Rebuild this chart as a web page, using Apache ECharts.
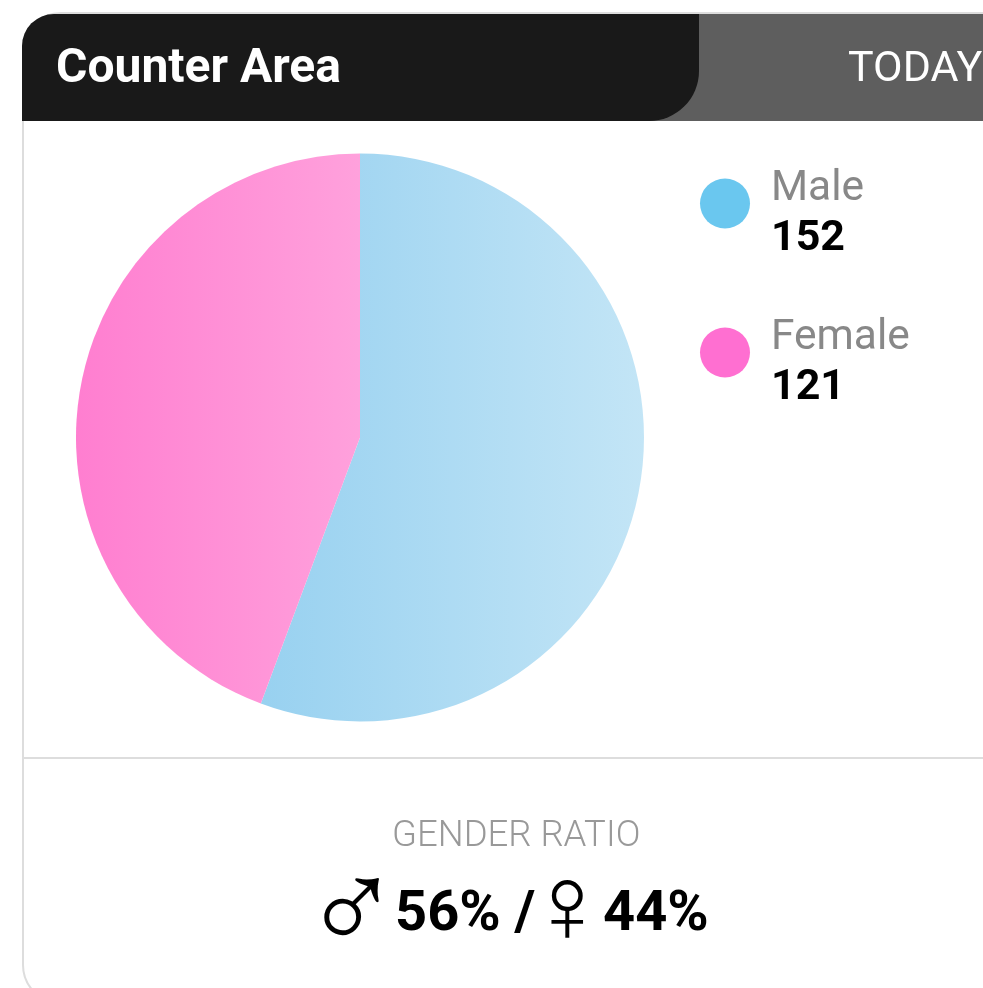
<!DOCTYPE html>
<html>
<head>
<meta charset="utf-8">
<title>Counter Area</title>
<style>
	html, body { margin: 0; padding: 0; background: #fff; overflow: hidden; }
	#main { width: 983px; height: 988px; }
</style>
<script src="https://cdn.jsdelivr.net/npm/echarts@6/dist/echarts.min.js"></script>
</head>
<body>
<div id="main"></div>
<script>
var genderNames = ['Male', 'Female'];
var genderCounts = [152, 121];
var genderPercents = ['56%', '44%'];
var legendColors = ['#6AC7EF', '#FF6FD1'];
var sliceFrom = ['#98D1F0', '#FF7ED0'];
var sliceTo = ['#C3E5F6', '#FFA1DC'];
var titleText = 'Counter Area';
var tabText = 'TODAY';
var ratioText = 'GENDER RATIO';

var myChart = echarts.init(document.getElementById('main'), null, { renderer: 'canvas' });

var pieData = [];
var legendData = [];
for (var i in genderNames) {
	pieData.push({
		name: genderNames[i],
		value: genderCounts[i],
		itemStyle: {
			color: new echarts.graphic.LinearGradient(0, 0, 1, 0, [
				{ offset: 0, color: sliceFrom[i] },
				{ offset: 1, color: sliceTo[i] }
			])
		}
	});
	legendData.push({
		name: genderNames[i],
		itemStyle: { color: legendColors[i] }
	});
}

//图例文字：名称+数量
function legendLabel(name) {
	return '{name|' + name + '}\n{count|' + genderCounts[genderNames.indexOf(name)] + '}';
}

function boldText(x, y, text) {
	return {
		type: 'text', left: x, top: y, silent: true,
		style: { text: text, fill: '#000', font: 'bold 56px Roboto' }
	};
}

function symbolText(x, y, text, size) {
	return {
		type: 'text', left: x, top: y, silent: true,
		style: { text: text, fill: '#000', font: size + 'px "Liberation Sans"' }
	};
}

var option = {
	animation: false,
	legend: {
		orient: 'vertical',
		left: 695,
		top: 163,
		icon: 'circle',
		itemWidth: 50,
		itemHeight: 50,
		itemGap: 56,
		selectedMode: false,
		data: legendData,
		formatter: legendLabel,
		textStyle: {
			padding: [22, 0, 0, 16],
			rich: {
				name: { fontFamily: 'Roboto', fontSize: 42.5, color: '#888', lineHeight: 50 },
				count: { fontFamily: 'Roboto', fontSize: 43, fontWeight: 'bold', color: '#000', lineHeight: 50 }
			}
		}
	},
	graphic: [
		//卡片外框
		{
			type: 'rect', z: 0, silent: true,
			shape: { x: 23, y: 13, width: 1100, height: 990, r: 38 },
			style: { fill: '#fff', stroke: '#DDD', lineWidth: 2 }
		},
		//标签页
		{
			type: 'rect', z: 1, silent: true,
			shape: { x: 600, y: 14, width: 500, height: 107, r: 0 },
			style: { fill: '#5E5E5E' }
		},
		{
			type: 'rect', z: 2, silent: true,
			shape: { x: 22, y: 14, width: 677, height: 107, r: [32, 0, 50, 0] },
			style: { fill: '#191919' }
		},
		{
			type: 'text', z: 3, left: 56, top: 46, silent: true,
			style: { text: titleText, fill: '#fff', font: 'bold 48px Roboto' }
		},
		{
			type: 'text', z: 3, left: 848, top: 49, silent: true,
			style: { text: tabText, fill: '#fff', font: '400 43px Roboto' }
		},
		//分隔线
		{
			type: 'rect', z: 1, silent: true,
			shape: { x: 24, y: 757, width: 1000, height: 2 },
			style: { fill: '#DDD' }
		},
		{
			type: 'text', left: 392, top: 818, silent: true,
			style: { text: ratioText, fill: '#999', font: '300 36.5px Roboto' }
		},
		symbolText(303, 850, '\u2642', 130),
		boldText(395, 888, genderPercents[0] + ' /'),
		symbolText(526, 857, '\u2640', 110),
		boldText(603, 888, genderPercents[1])
	],
	series: [ {
		type: 'pie',
		center: [360, 437.5],
		radius: [0, 284],
		startAngle: 90,
		clockwise: true,
		silent: true,
		label: { show: false },
		labelLine: { show: false },
		data: pieData
	} ]
};

myChart.setOption(option);
</script>
</body>
</html>
